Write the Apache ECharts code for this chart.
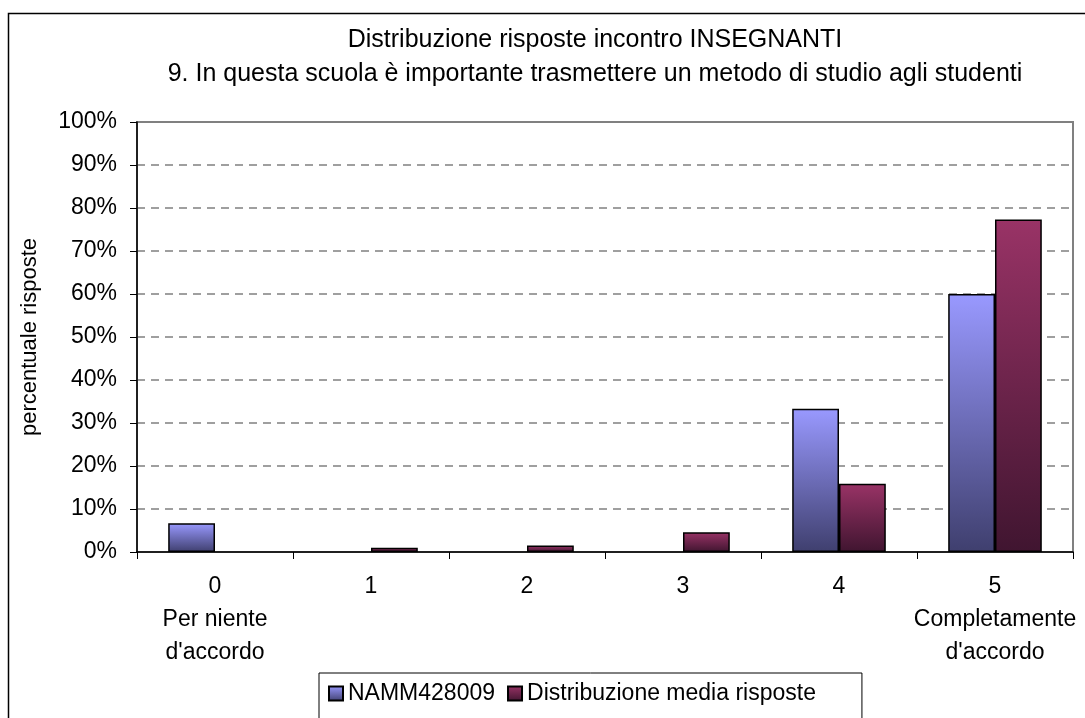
<!DOCTYPE html>
<html>
<head>
<meta charset="utf-8">
<script src="https://cdn.jsdelivr.net/npm/echarts@6/dist/echarts.min.js"></script>
<style>
  html, body { margin: 0; padding: 0; background: #fff; }
  #main { width: 1085px; height: 718px; }
</style>
</head>
<body>
<div id="main"></div>
<script>
// dati
var categories = ["0\nPer niente\nd'accordo", "1", "2", "3", "4", "5\nCompletamente\nd'accordo"];
var scuola = [6.7, 0, 0, 0, 33.3, 60.0];
var media = [0, 1.0, 1.5, 4.6, 15.9, 77.3];
var seriesNames = ["NAMM428009", "Distribuzione media risposte"];
var titleLines = ["Distribuzione risposte incontro INSEGNANTI",
  "9. In questa scuola è importante trasmettere un metodo di studio agli studenti"];

var font = "Liberation Sans, Arial, sans-serif";
var fs = 23;

function grad(top, bottom) {
  return new echarts.graphic.LinearGradient(0, 0, 0, 1, [
    { offset: 0, color: top },
    { offset: 1, color: bottom }
  ]);
}

// le barre a zero non si disegnano (come in Excel)
function noZero(arr) {
  return arr.map(function (v) { return v === 0 ? "-" : v; });
}

var myChart = echarts.init(document.getElementById("main"));

myChart.setOption({
  animation: false,
  textStyle: { fontFamily: font, color: "#000" },
  graphic: [
    {
      type: "rect",
      shape: { x: 8.5, y: 13.5, width: 1200, height: 800 },
      style: { fill: "none", stroke: "#000", lineWidth: 1.5 },
      silent: true
    }
  ],
  title: [
    {
      text: titleLines[0],
      left: 590, top: 23, textAlign: "center",
      textStyle: { fontSize: 25, fontWeight: "normal", color: "#000", fontFamily: font }
    },
    {
      text: titleLines[1],
      left: 590, top: 57, textAlign: "center",
      textStyle: { fontSize: 25, fontWeight: "normal", color: "#000", fontFamily: font }
    }
  ],
  legend: {
    left: 319, top: 673,
    padding: [9, 46, 30, 9],
    borderColor: "#000", borderWidth: 1,
    itemWidth: 14, itemHeight: 14, itemGap: 12,
    icon: "rect",
    textStyle: { fontSize: fs, color: "#000", fontFamily: font },
    data: seriesNames
  },
  grid: {
    left: 137, right: 12, top: 122, bottom: 166,
    show: true, borderColor: "#808080", borderWidth: 2,
    containLabel: false
  },
  xAxis: {
    type: "category",
    data: categories,
    axisLine: { lineStyle: { color: "#000", width: 1.5 } },
    axisTick: { show: true, length: 7, lineStyle: { color: "#000" } },
    axisLabel: { fontSize: fs, color: "#000", lineHeight: 33, margin: 18, interval: 0 }
  },
  yAxis: {
    type: "value",
    min: 0, max: 100, interval: 10,
    name: "percentuale risposte",
    nameLocation: "middle", nameRotate: 90, nameGap: 96,
    nameTextStyle: { fontSize: fs - 1, color: "#000", fontFamily: font },
    axisLine: { show: true, lineStyle: { color: "#000", width: 1.5 } },
    axisTick: { show: true, length: 7, lineStyle: { color: "#000" } },
    axisLabel: { fontSize: fs, color: "#000", margin: 20, formatter: "{value}%" },
    splitLine: { lineStyle: { color: "#808080", type: [8, 6], width: 1.5 } }
  },
  series: [
    {
      name: seriesNames[0],
      type: "bar",
      data: noZero(scuola),
      barGap: "0%",
      barCategoryGap: "40%",
      itemStyle: { color: grad("#9999ff", "#3f3f6e"), borderColor: "#000", borderWidth: 1.5 }
    },
    {
      name: seriesNames[1],
      type: "bar",
      data: noZero(media),
      itemStyle: { color: grad("#993366", "#401530"), borderColor: "#000", borderWidth: 1.5 }
    }
  ]
});
</script>
</body>
</html>
